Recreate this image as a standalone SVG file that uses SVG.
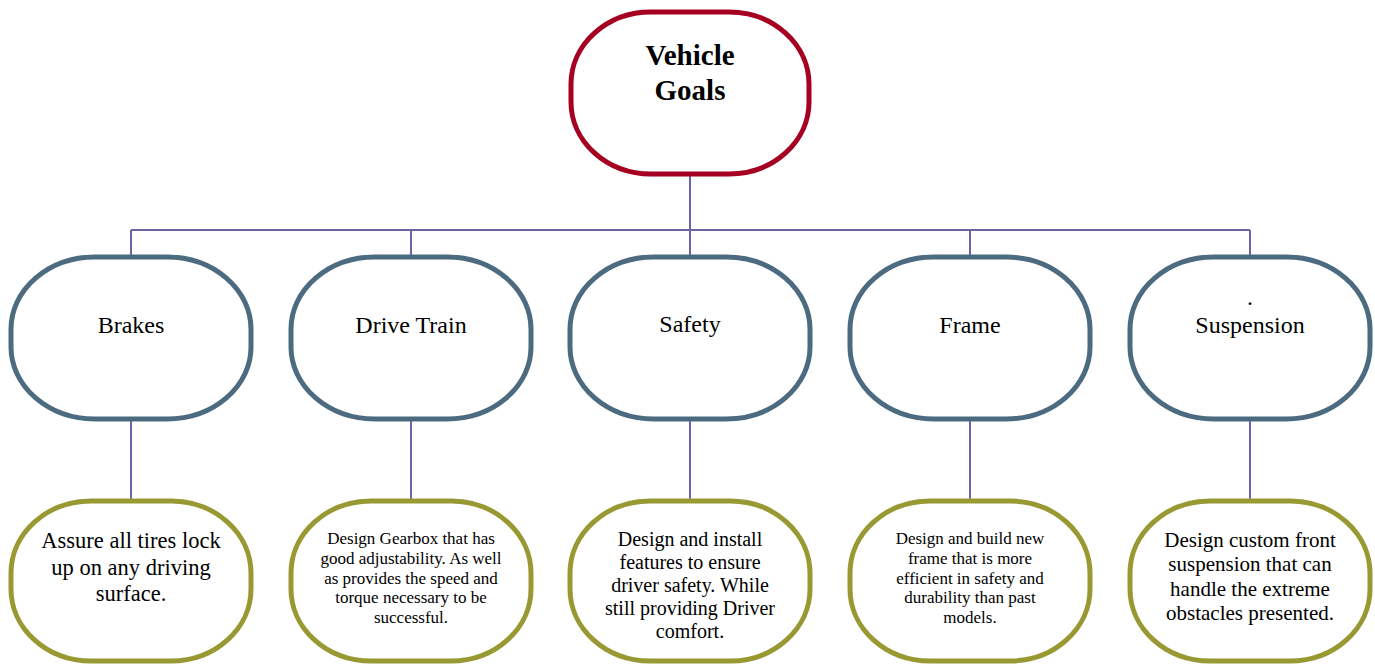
<svg xmlns="http://www.w3.org/2000/svg" width="1375" height="665" viewBox="0 0 1375 665">
<style>
.top{fill:#fff;stroke:#a50021;stroke-width:5}
.mid{fill:#fff;stroke:#4c6b80;stroke-width:5}
.bot{fill:#fff;stroke:#999933;stroke-width:5}
.conn{fill:none;stroke:#6a64a2;stroke-width:2}
text{font-family:"Liberation Serif","Times New Roman",serif;fill:#000;text-anchor:middle}
.t1{font-size:29px;font-weight:bold}
.t2{font-size:24px}
</style>
<rect width="1375" height="665" fill="#fff"/>
<g id="connectors">
<path class="conn" d="M690 174V230M131 230H1250M131 230V257M411 230V257M690 230V257M970 230V257M1250 230V257"/>
<path class="conn" d="M131 419V502M411 419V502M690 419V502M970 419V502M1250 419V502"/>
</g>
<g id="vehicle-goals">
<rect class="top" x="571" y="12" width="238" height="162" rx="80" ry="72"/>
<text class="t1" x="690" y="65">Vehicle</text>
<text class="t1" x="690" y="100">Goals</text>
</g>
<g id="brakes">
<rect class="mid" x="11" y="257" width="240" height="162" rx="84" ry="72"/>
<text class="t2" x="131" y="333">Brakes</text>
</g>
<g id="drive-train">
<rect class="mid" x="291" y="257" width="240" height="162" rx="84" ry="72"/>
<text class="t2" x="411" y="333">Drive Train</text>
</g>
<g id="safety">
<rect class="mid" x="570" y="257" width="240" height="162" rx="84" ry="72"/>
<text class="t2" x="690" y="332">Safety</text>
</g>
<g id="frame">
<rect class="mid" x="850" y="257" width="240" height="162" rx="84" ry="72"/>
<text class="t2" x="970" y="333">Frame</text>
</g>
<g id="suspension">
<rect class="mid" x="1130" y="257" width="240" height="162" rx="84" ry="72"/>
<text class="t2" x="1250" y="305">.</text>
<text class="t2" x="1250" y="333">Suspension</text>
</g>
<g id="brakes-goal">
<rect class="bot" x="11" y="501" width="240" height="160" rx="80" ry="72"/>
<text style="font-size:22.5px" x="131"><tspan x="131" y="548">Assure all tires lock</tspan><tspan x="131" y="575">up on any driving</tspan><tspan x="131" y="601">surface.</tspan></text>
</g>
<g id="drive-train-goal">
<rect class="bot" x="291" y="501" width="240" height="160" rx="80" ry="72"/>
<text style="font-size:17px" x="411"><tspan x="411" y="544">Design Gearbox that has</tspan><tspan x="411" y="564">good adjustability. As well</tspan><tspan x="411" y="584">as provides the speed and</tspan><tspan x="411" y="603">torque necessary to be</tspan><tspan x="411" y="623">successful.</tspan></text>
</g>
<g id="safety-goal">
<rect class="bot" x="570" y="501" width="240" height="160" rx="80" ry="72"/>
<text style="font-size:20px" x="690"><tspan x="690" y="546">Design and install</tspan><tspan x="690" y="569">features to ensure</tspan><tspan x="690" y="592">driver safety. While</tspan><tspan x="690" y="615">still providing Driver</tspan><tspan x="690" y="638">comfort.</tspan></text>
</g>
<g id="frame-goal">
<rect class="bot" x="850" y="501" width="240" height="160" rx="80" ry="72"/>
<text style="font-size:17px" x="970"><tspan x="970" y="544">Design and build new</tspan><tspan x="970" y="564">frame that is more</tspan><tspan x="970" y="584">efficient in safety and</tspan><tspan x="970" y="603">durability than past</tspan><tspan x="970" y="623">models.</tspan></text>
</g>
<g id="suspension-goal">
<rect class="bot" x="1130" y="501" width="240" height="160" rx="80" ry="72"/>
<text style="font-size:21px" x="1250"><tspan x="1250" y="547">Design custom front</tspan><tspan x="1250" y="571">suspension that can</tspan><tspan x="1250" y="596">handle the extreme</tspan><tspan x="1250" y="620">obstacles presented.</tspan></text>
</g>
</svg>
